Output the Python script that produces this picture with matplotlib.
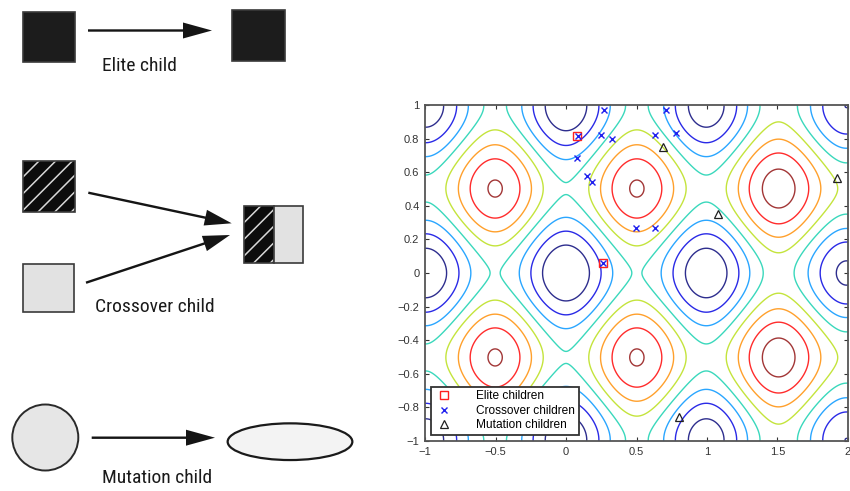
import numpy as np
import matplotlib
matplotlib.use("Agg")
import matplotlib.pyplot as plt
from matplotlib.patches import Rectangle, Circle, Ellipse, FancyArrow

plt.rcParams['hatch.linewidth'] = 1.1

# ---------------- data ----------------
elite_x = [0.080, 0.260]
elite_y = [0.817, 0.060]
cross_x = [0.269, 0.248, 0.329, 0.080, 0.147, 0.187, 0.496, 0.633, 0.633, 0.780, 0.709, 0.260, 0.085]
cross_y = [0.970, 0.821, 0.796, 0.687, 0.579, 0.544, 0.266, 0.266, 0.821, 0.831, 0.970, 0.060, 0.817]
mut_x = [0.690, 1.076, 1.924, 0.801]
mut_y = [0.748, 0.351, 0.568, -0.859]
contour_levels = [5, 10, 15, 20, 25, 30, 35, 40]
contour_colors = ['#2e2e8e', '#2a2ae6', '#2aa6ff', '#3ad8bc',
                  '#c4e43c', '#ffa02c', '#ff2c2c', '#a23636']
xticks = [-1, -0.5, 0, 0.5, 1, 1.5, 2]
xticklabels = ['\u22121', '\u22120.5', '0', '0.5', '1', '1.5', '2']
yticks = [-1, -0.8, -0.6, -0.4, -0.2, 0, 0.2, 0.4, 0.6, 0.8, 1]
yticklabels = ['\u22121', '\u22120.8', '\u22120.6', '\u22120.4', '\u22120.2', '0',
               '0.2', '0.4', '0.6', '0.8', '1']
legend_labels = ['Elite children', 'Crossover children', 'Mutation children']
captions = ['Elite child', 'Crossover child', 'Mutation child']

W, H = 850, 491
fig = plt.figure(figsize=(W / 100, H / 100), dpi=100)

# ---------------- left diagram (pixel coordinates) ----------------
d = fig.add_axes([0, 0, 1, 1])
d.set_xlim(0, W)
d.set_ylim(H, 0)
d.axis('off')

dark = '#1c1c1c'
light = '#e2e2e2'
edge = '#3a3a3a'

def rect(x0, y0, x1, y1, fc, pattern=False):
    if pattern:
        d.add_patch(Rectangle((x0, y0), x1 - x0, y1 - y0, facecolor='#0c0c0c',
                              edgecolor='#d8d8d8', hatch='//', lw=0))
        d.add_patch(Rectangle((x0, y0), x1 - x0, y1 - y0, facecolor='none',
                              edgecolor=edge, lw=1.2))
    else:
        d.add_patch(Rectangle((x0, y0), x1 - x0, y1 - y0, facecolor=fc,
                              edgecolor=edge, lw=1.2))

def arrow(x0, y0, x1, y1, hl=29):
    d.add_patch(FancyArrow(x0, y0, x1 - x0, y1 - y0, width=2.4, head_width=16,
                           head_length=hl, length_includes_head=True,
                           color='#151515', lw=0))

# elite
rect(22.7, 12.3, 74.7, 62, dark)
rect(232.3, 10.3, 285, 60.7, dark)
arrow(88, 30.5, 212, 30.5)

# crossover
rect(22.7, 160.7, 74.7, 211.7, dark, pattern=True)
rect(22.7, 264.3, 74, 311.7, light)
rect(244, 206, 274, 262.7, dark, pattern=True)
rect(274, 206, 303.3, 262.7, light)
arrow(88.3, 192.7, 231.7, 223.3, hl=27)
arrow(86, 282.7, 230, 235, hl=27)

# mutation
d.add_patch(Circle((45.3, 437.5), 33, facecolor='#e6e6e6', edgecolor='#2a2a2a', lw=1.4))
d.add_patch(Ellipse((290, 441.7), 124.7, 36.7, facecolor='#f3f3f3', edgecolor='#1a1a1a', lw=1.6))
arrow(91.7, 437.7, 215, 437.7)

capfont = dict(family=['Roboto Condensed', 'Liberation Sans Narrow', 'DejaVu Sans'],
               fontstretch='condensed', fontsize=14,
               color='#1a1a1a', ha='center', va='center')
d.text(139, 66, captions[0], **capfont)
d.text(155, 307, captions[1], **capfont)
d.text(157, 478, captions[2], **capfont)

# ---------------- contour plot ----------------
ax = fig.add_axes([425 / W, (H - 441) / H, 423 / W, 336 / H])
gx = np.linspace(-1, 2, 500)
gy = np.linspace(-1, 1, 350)
X, Y = np.meshgrid(gx, gy)
Z = 20 + X**2 + Y**2 - 10 * (np.cos(2 * np.pi * X) + np.cos(2 * np.pi * Y))
ax.contour(X, Y, Z, levels=contour_levels, colors=contour_colors, linewidths=1.0)

ax.plot(elite_x, elite_y, linestyle='none', marker='s', markersize=6,
        markerfacecolor='none', markeredgecolor='#ff2020', markeredgewidth=1.0,
        label=legend_labels[0], zorder=3)
ax.plot(cross_x, cross_y, linestyle='none', marker='x', markersize=4.5,
        color='#2020ee', markeredgewidth=1.0, label=legend_labels[1], zorder=4)
ax.plot(mut_x, mut_y, linestyle='none', marker='^', markersize=6,
        markerfacecolor='none', markeredgecolor='#202020', markeredgewidth=0.9,
        label=legend_labels[2], zorder=4)

ax.set_xlim(-1, 2)
ax.set_ylim(-1, 1)
ax.set_xticks(xticks)
ax.set_xticklabels(xticklabels)
ax.set_yticks(yticks)
ax.set_yticklabels(yticklabels)
ax.tick_params(direction='in', top=True, right=True, length=3, width=0.8,
               labelsize=8, colors='#333333', pad=4)
for lab in ax.get_xticklabels() + ax.get_yticklabels():
    lab.set_family(['Liberation Sans', 'DejaVu Sans'])
for s in ax.spines.values():
    s.set_color('#555555')
    s.set_linewidth(1.3)

leg = ax.legend(loc='lower left', prop={'family': ['Liberation Sans', 'DejaVu Sans'], 'size': 8.6},
                fancybox=False, framealpha=1,
                edgecolor='#333333', borderpad=0.3, labelspacing=0.22,
                handlelength=1.6, handletextpad=1.9, borderaxespad=0.5)
leg.get_frame().set_linewidth(1.3)

fig.savefig('out.png', dpi=100)
